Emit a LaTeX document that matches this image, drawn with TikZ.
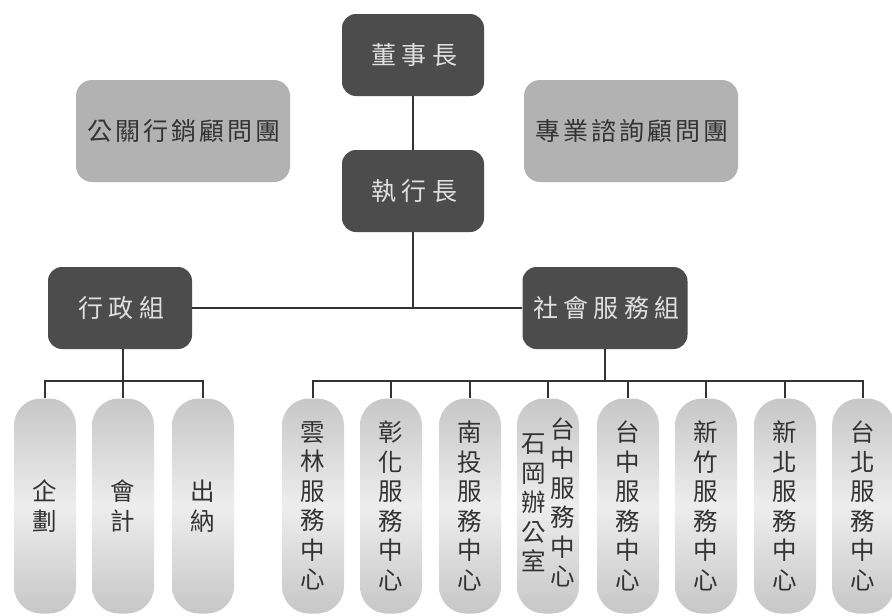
\documentclass[tikz,border=0pt]{standalone}
\usepackage{fontspec}
\newfontfamily\cjk{Noto Sans CJK TC}
\newfontfamily\cjkwide[LetterSpace=22]{Noto Sans CJK TC}
\newfontfamily\cjkmid[LetterSpace=12]{Noto Sans CJK TC}
\newcommand{\vcol}[1]{\begin{tabular}[c]{@{}c@{}}#1\end{tabular}}
\begin{document}
\begin{tikzpicture}[x=1pt,y=-1pt,
  darkbox/.style={draw=none, fill=black!70, rounded corners=14pt, text=white!88!black,
    font=\cjkwide\fontsize{25}{28}\selectfont, minimum height=82pt, inner sep=0pt},
  advbox/.style={draw=none, fill=gray!60, rounded corners=16pt, minimum width=214pt,
    minimum height=102pt, text=black!80, font=\cjkmid\fontsize{25}{28}\selectfont, inner sep=0pt},
  colbox/.style={draw=none, top color=gray!44, bottom color=gray!44, middle color=gray!14,
    rounded corners=27pt, minimum width=62pt, minimum height=215pt, inner sep=0pt,
    align=center, font=\cjk\fontsize{24.5}{29.5}\selectfont, text=black!80},
  conn/.style={draw=black!80, line width=1.5pt}]
\useasboundingbox (0,0) rectangle (892,616);
\fill[white] (0,0) rectangle (892,616);
% top level
\node[darkbox, minimum width=142pt] (chair) at (413,55) {\kern3pt 董事長};
\node[darkbox, minimum width=142pt] (ceo) at (413,191) {\kern3pt 執行長};
\node[advbox] (pr) at (183,131) {\kern2pt 公關行銷顧問團};
\node[advbox] (pro) at (631,131) {\kern2pt 專業諮詢顧問團};
% groups
\node[darkbox, minimum width=144pt] (admin) at (120,308) {\kern3pt 行政組};
\node[darkbox, minimum width=165pt] (social) at (605,308) {\kern3pt 社會服務組};
% admin units
\node[colbox] (a1) at (45,506) {企\\劃};
\node[colbox] (a2) at (123,506) {會\\計};
\node[colbox] (a3) at (203,506) {出\\納};
% service centers
\node[colbox] (s1) at (313,506) {雲\\林\\服\\務\\中\\心};
\node[colbox] (s2) at (391,506) {彰\\化\\服\\務\\中\\心};
\node[colbox] (s3) at (470,506) {南\\投\\服\\務\\中\\心};
\node[colbox] (s4) at (548,506) {\vcol{石\\岡\\辦\\公\\室}\hspace{5pt}\vcol{台\\中\\服\\務\\中\\心}};
\node[colbox] (s5) at (628,506) {台\\中\\服\\務\\中\\心};
\node[colbox] (s6) at (706,506) {新\\竹\\服\\務\\中\\心};
\node[colbox] (s7) at (785,506) {新\\北\\服\\務\\中\\心};
\node[colbox] (s8) at (863,506) {台\\北\\服\\務\\中\\心};
\coordinate (busy) at (0,381);
% connectors
\draw[conn] (chair.south) -- (ceo.north);
\draw[conn] (ceo.south) -- (ceo.south |- admin.east);
\draw[conn] (admin.east) -- (social.west);
\draw[conn] (a2.north |- admin.south) -- (a2.north);
\draw[conn] (a1.north) -- (a1.north |- busy) -- (a3.north |- busy) -- (a3.north);
\draw[conn] (social.south) -- (social.south |- busy);
\draw[conn] (s1.north) -- (s1.north |- busy) -- (s8.north |- busy) -- (s8.north);
\foreach \n in {s2,s3,s4,s5,s6,s7}{\draw[conn] (\n.north) -- (\n.north |- busy);}
\end{tikzpicture}
\end{document}
